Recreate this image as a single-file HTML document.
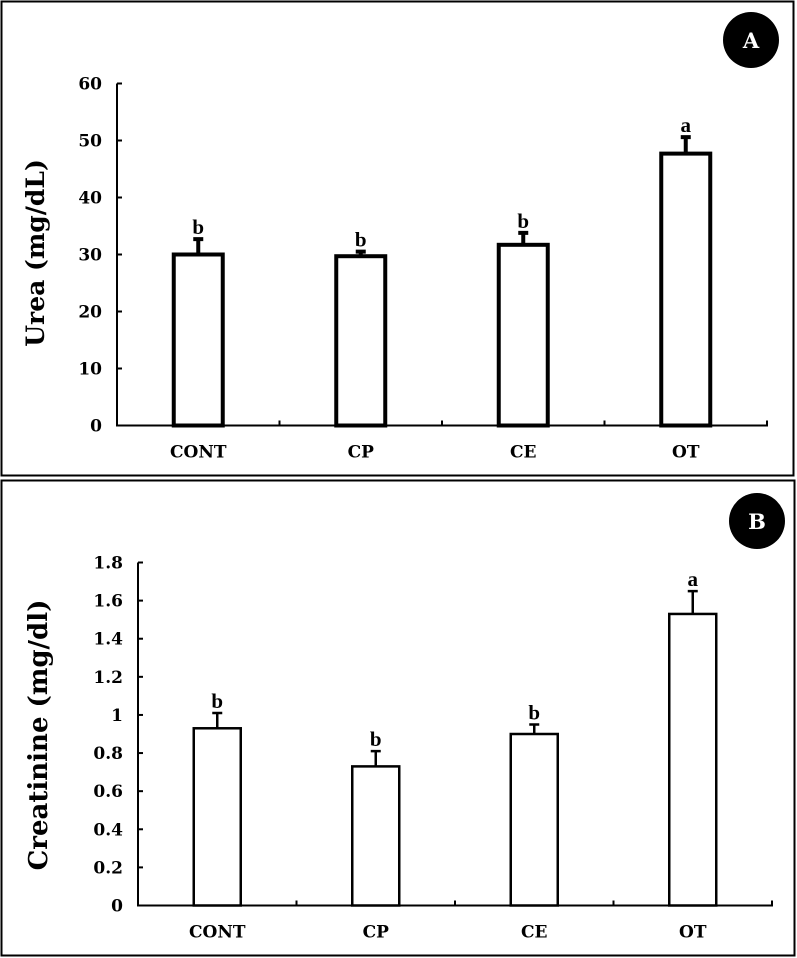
<!DOCTYPE html>
<html><head><meta charset="utf-8"><style>
html,body{margin:0;padding:0;background:#fff;}
svg{display:block;}
text{font-family:"DejaVu Serif","Liberation Serif",serif;font-weight:bold;fill:#000;}
text.lt{font-family:"Liberation Serif",serif;}
</style></head><body>
<svg id="chart" width="797" height="958" viewBox="0 0 797 958" xmlns="http://www.w3.org/2000/svg">
<rect x="1.5" y="1.5" width="792" height="474" fill="none" stroke="#000" stroke-width="2"/>
<rect x="1.5" y="480.5" width="793" height="475" fill="none" stroke="#000" stroke-width="2"/>
<g><circle cx="751" cy="40" r="28" fill="#000"/><text x="751" y="48" text-anchor="middle" font-size="21" style="fill:#fff">A</text></g>
<g><circle cx="757" cy="521" r="28" fill="#000"/><text x="757" y="529" text-anchor="middle" font-size="21" style="fill:#fff">B</text></g>
<g id="pa"></g>
<g id="pb"></g>
</svg>
<script>
const categories = ["CONT","CP","CE","OT"];
const ureaValues = [30, 29.7, 31.7, 47.7];
const ureaErrors = [2.7, 0.8, 2.1, 2.9];
const ureaLetters = ["b","b","b","a"];
const ureaTicks = [0,10,20,30,40,50,60];
const ureaTickLabels = ["0","10","20","30","40","50","60"];
const creatValues = [0.93, 0.73, 0.90, 1.53];
const creatErrors = [0.08, 0.08, 0.05, 0.12];
const creatLetters = ["b","b","b","a"];
const creatTicks = [0,0.2,0.4,0.6,0.8,1,1.2,1.4,1.6,1.8];
const creatTickLabels = ["0","0.2","0.4","0.6","0.8","1","1.2","1.4","1.6","1.8"];

const NS="http://www.w3.org/2000/svg";
function mk(parent,tag,attrs){const e=document.createElementNS(NS,tag);for(const k in attrs)e.setAttribute(k,attrs[k]);parent.appendChild(e);return e;}

function drawPanel(g, cfg){
  const {x0,x1,y0,y1,vmax,values,errors,letters,ticks,labels,title,barW,sw,titleX,titleY,titleSize} = cfg;
  const band=(x1-x0)/categories.length;
  const ys=v=>y0-(v/vmax)*(y0-y1);
  const xc=i=>x0+band*(i+0.5);
  const ax=mk(g,'path',{d:`M${x0},${y1} V${y0} H${x1} V${y0-5}`,fill:'none',stroke:'#000','stroke-width':2});
  
  
  for(let i=1;i<categories.length;i++){
    const t=mk(g,'line',{x1:x0+band*i,x2:x0+band*i,y1:y0,y2:y0-5,stroke:'#000','stroke-width':2});
    
    
  }
  ticks.forEach((v,i)=>{
    const t=mk(g,'line',{x1:x0,x2:x0+5,y1:ys(v),y2:ys(v),stroke:'#000','stroke-width':2});
    
    
    const l=mk(g,'text',{x:x0-15,y:ys(v)+6,'text-anchor':'end','font-size':17});
    l.textContent=labels[i];
    
    
  });
  const tt=mk(g,'text',{x:titleX,y:titleY,'text-anchor':'middle','font-size':titleSize,transform:`rotate(-90 ${titleX} ${titleY})`});
  tt.textContent=title;
  
  
  categories.forEach((c,i)=>{
    const cx=xc(i), top=ys(values[i]), et=ys(values[i]+errors[i]);
    const eb=mk(g,'path',{d:`M${cx},${top} V${et} M${cx-5},${et} H${cx+5}`,stroke:'#000','stroke-width':sw,fill:'none'});
    
    
    const b=mk(g,'rect',{x:cx-barW/2,y:top,width:barW,height:y0-top,fill:'#fff',stroke:'#000','stroke-width':sw});
    
    
    const lt=mk(g,'text',{x:cx,y:et-5,'text-anchor':'middle','font-size':21,'class':'lt'});
    lt.textContent=letters[i];
    
    
    const xl=mk(g,'text',{x:cx,y:y0+32,'text-anchor':'middle','font-size':17});
    xl.textContent=c;
    
    
  });
}
drawPanel(document.getElementById('pa'),{x0:117,x1:767,y0:425.5,y1:83.5,vmax:60,values:ureaValues,errors:ureaErrors,letters:ureaLetters,ticks:ureaTicks,labels:ureaTickLabels,title:"Urea (mg/dL)",titleSize:25,barW:49,sw:4,titleX:44,titleY:253});
drawPanel(document.getElementById('pb'),{x0:138,x1:772,y0:905.5,y1:562.5,vmax:1.8,values:creatValues,errors:creatErrors,letters:creatLetters,ticks:creatTicks,labels:creatTickLabels,title:"Creatinine (mg/dl)",titleSize:26,barW:47,sw:2.5,titleX:47,titleY:735});
</script>
</body></html>
